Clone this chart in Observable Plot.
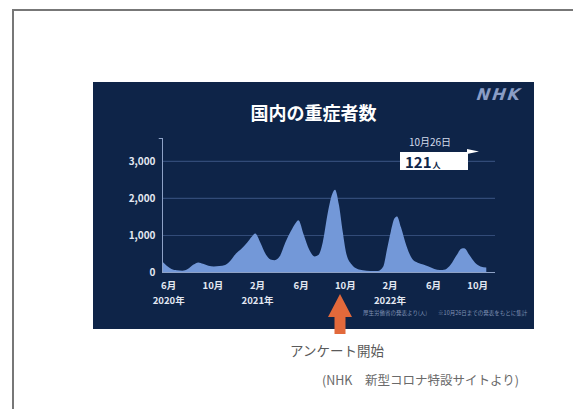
<!DOCTYPE html>
<html>
<head>
<meta charset="utf-8">
<script src="https://cdn.jsdelivr.net/npm/d3@7"></script>
<script src="https://cdn.jsdelivr.net/npm/@observablehq/plot@0.6"></script>
<style>
  html, body { margin: 0; padding: 0; background: #fff; }
  body { width: 573px; height: 409px; position: relative; overflow: hidden; font-family: "Noto Sans CJK JP", "Noto Sans", sans-serif; }
  .abs { position: absolute; }
  #panel { position: absolute; left: 93px; top: 82px; width: 441px; height: 247px; background: #0e2448; overflow: hidden; }
  #panel svg { position: absolute; left: 0; top: 0; }
</style>
</head>
<body>
<div class="abs" style="left:13px;top:9px;right:0;height:2px;background:#777;"></div>
<div class="abs" style="left:12px;top:9px;bottom:0;width:2px;background:#777;"></div>
<div id="panel"></div>
<svg class="abs" style="left:0;top:0;" width="573" height="409">
  <polygon points="340,294 352,317 345.5,317 345.5,334 334.5,334 334.5,317 328,317" fill="#e2693b"/>
</svg>
<div class="abs" style="left:290px;top:340px;font-size:13.5px;color:#5a5a5a;line-height:20px;white-space:nowrap;" id="survey"></div>
<div class="abs" style="left:322px;top:370px;font-size:12.5px;color:#6a6a6a;line-height:20px;white-space:nowrap;" id="source"></div>
<script>
// ---- data ----
const dates = [
  "2020-05-15","2020-05-28","2020-06-10","2020-06-25","2020-07-10","2020-07-25",
  "2020-08-10","2020-08-23","2020-09-05","2020-09-20","2020-10-05","2020-10-20",
  "2020-11-05","2020-11-20","2020-12-05","2020-12-20","2021-01-05","2021-01-18",
  "2021-01-27","2021-02-10","2021-02-25","2021-03-10","2021-03-22","2021-04-05",
  "2021-04-20","2021-05-05","2021-05-18","2021-05-26","2021-06-10","2021-06-25",
  "2021-07-10","2021-07-20","2021-08-01","2021-08-15","2021-08-27","2021-09-04",
  "2021-09-15","2021-09-25","2021-10-05","2021-10-20","2021-11-05","2021-11-20",
  "2021-12-10","2021-12-31","2022-01-15","2022-01-25","2022-02-05","2022-02-15",
  "2022-02-22","2022-03-05","2022-03-20","2022-04-05","2022-04-20","2022-05-05",
  "2022-05-20","2022-06-05","2022-06-20","2022-07-05","2022-07-20","2022-08-05",
  "2022-08-18","2022-08-26","2022-09-10","2022-09-25","2022-10-10","2022-10-26"
];
const values = [
  290, 170, 80, 45, 35, 80,
  200, 260, 220, 170, 150, 160,
  190, 310, 500, 630, 800, 960,
  1040, 800, 480, 340, 320, 430,
  800, 1100, 1320, 1400, 1000, 600,
  420, 460, 800, 1600, 2100, 2220,
  1800, 1100, 500, 200, 80, 45,
  25, 30, 150, 600, 1100, 1450,
  1500, 1200, 700, 350, 250, 200,
  150, 80, 55, 70, 200, 450,
  630, 640, 450, 250, 150, 121
];
const yTicks = [0, 1000, 2000, 3000];
const xTickDates = ["2020-06-01","2020-10-01","2021-02-01","2021-06-01","2021-10-01","2022-02-01","2022-06-01","2022-10-01"];
const xTickLabels = ["6月","10月","2月","6月","10月","2月","6月","10月"];
const yearDates = ["2020-06-01","2021-02-01","2022-02-01"];
const yearLabels = ["2020年","2021年","2022年"];
const titleText = "国内の重症者数";
const brandText = "NHK";
const latestDateText = "10月26日";
const latestValue = 121;
const latestUnit = "人";
const noteText = "厚生労働省の発表より(人)　　※10月26日までの発表をもとに集計";
const surveyText = "アンケート開始";
const sourceText = "(NHK　新型コロナ特設サイトより)";

// ---- build ----
const data = dates.map((d, i) => ({date: new Date(d), value: values[i]}));
const xStart = new Date("2020-05-15");
const xEnd = new Date("2022-11-19");
const xTickStart = new Date("2020-05-06");
const yTop = 3620;
const fontFam = "Noto Sans CJK JP, Noto Sans, sans-serif";

const chart = Plot.plot({
  width: 441,
  height: 247,
  marginLeft: 69,
  marginRight: 39,
  marginTop: 56,
  marginBottom: 57,
  style: {background: "transparent", color: "#e3e8f2", fontFamily: fontFam, fontSize: "9.5px", fontWeight: "bold", overflow: "visible"},
  x: {type: "utc", domain: [xStart, xEnd], axis: null},
  y: {domain: [0, yTop], axis: null},
  marks: [
    Plot.ruleY(yTicks.filter(d => d > 0), {stroke: "#324b78", strokeWidth: 1.2}),
    Plot.areaY(data, {x: "date", y: "value", fill: "#7398d8", curve: "monotone-x"}),
    Plot.ruleY([0], {stroke: "#8ea2c6", strokeWidth: 1}),
    Plot.ruleX([xStart], {y1: 0, y2: yTop, stroke: "#8ea2c6", strokeWidth: 1}),
    Plot.ruleY([yTop], {x1: xTickStart, x2: xStart, stroke: "#8ea2c6"}),
    Plot.axisY({ticks: yTicks, label: null, tickSize: 0, tickPadding: 7, tickFormat: d3.format(","), fill: "#e3e8f2", fontSize: 10}),
    Plot.text(xTickDates.map(d => new Date(d)), {x: d => d, y: 0, dy: 13, text: (d, i) => xTickLabels[i], fill: "#e3e8f2", fontSize: 9.5}),
    Plot.text(yearDates.map(d => new Date(d)), {x: d => d, y: 0, dy: 28, text: (d, i) => yearLabels[i], fill: "#e3e8f2", fontSize: 9.5})
  ]
});
const panel = document.getElementById("panel");
panel.appendChild(chart);

function addDiv(parent, html, style) {
  const el = document.createElement("div");
  el.className = "abs";
  el.innerHTML = html;
  el.setAttribute("style", style);
  parent.appendChild(el);
  return el;
}
addDiv(panel, titleText, "left:0;width:441px;top:17px;text-align:center;color:#fff;font-weight:bold;font-size:18px;line-height:26px;");
addDiv(panel, brandText, "left:384px;top:4px;color:#8a9dc6;font-weight:900;font-style:italic;font-size:16px;line-height:18px;letter-spacing:2px;font-family:'DejaVu Sans',sans-serif;transform:skewX(-8deg);");
addDiv(panel, latestDateText, "left:307px;width:60px;top:53px;text-align:center;color:#d3dbeb;font-size:10px;line-height:14px;");
addDiv(panel, `<span style="font-size:15px;font-weight:bold;">${latestValue}</span><span style="font-size:8px;font-weight:bold;margin-left:1px;">${latestUnit}</span>`,
  "left:307px;top:70px;width:68px;height:18px;background:#fff;color:#0e2448;line-height:18px;padding-left:5px;box-sizing:border-box;font-family:" + fontFam + ";");
const ptr = document.createElementNS("http://www.w3.org/2000/svg", "svg");
ptr.setAttribute("width", "441"); ptr.setAttribute("height", "247");
ptr.innerHTML = '<polygon points="374,67 386,69.5 374,72" fill="#fff"/>';
panel.appendChild(ptr);
addDiv(panel, noteText, "left:270px;top:227px;color:#7f90b3;font-size:5.5px;line-height:8px;white-space:nowrap;");

document.getElementById("survey").textContent = surveyText;
document.getElementById("source").textContent = sourceText;
</script>
</body>
</html>
